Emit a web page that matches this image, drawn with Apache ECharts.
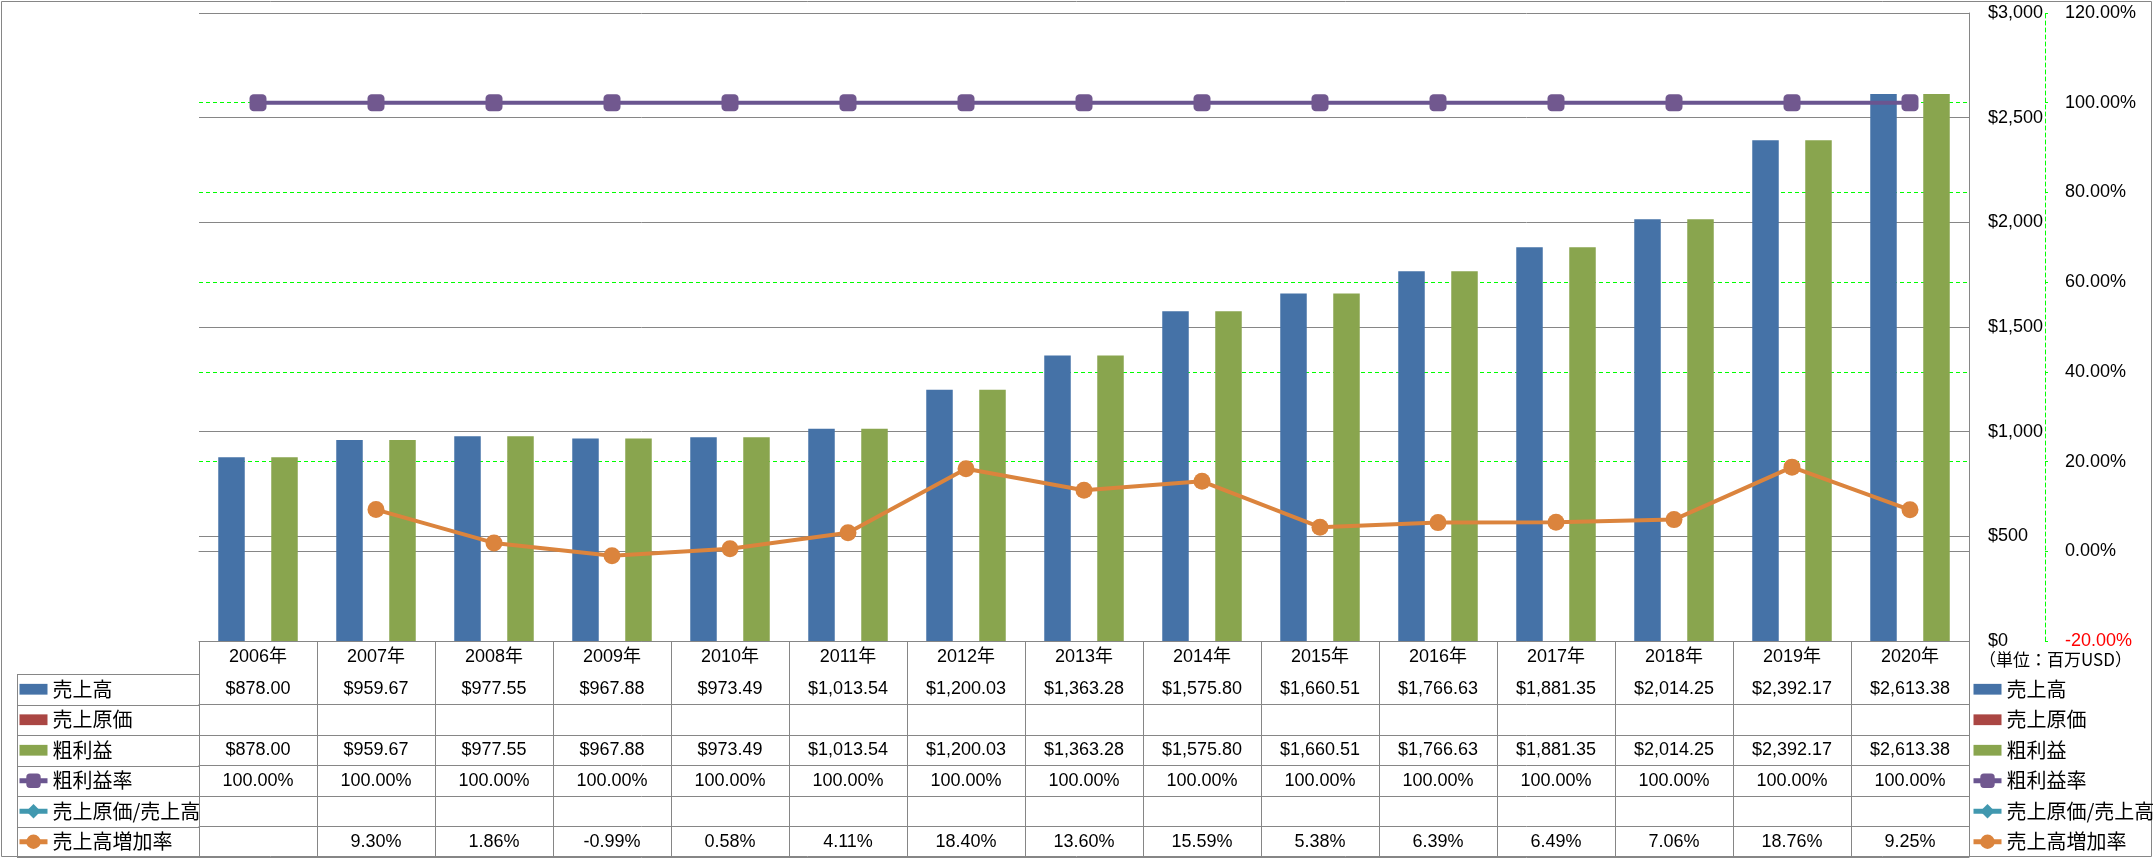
<!DOCTYPE html>
<html>
<head>
<meta charset="utf-8">
<script src="https://cdn.jsdelivr.net/npm/echarts@6/dist/echarts.min.js"></script>
<style>
html,body{margin:0;padding:0;background:#fff;}
#main{width:2156px;height:858px;}
</style>
</head>
<body>
<div id="main"></div>
<script>
// ---- data ----
const years = ['2006', '2007', '2008', '2009', '2010', '2011', '2012', '2013', '2014', '2015', '2016', '2017', '2018', '2019', '2020'];
const sales = [878.00, 959.67, 977.55, 967.88, 973.49, 1013.54, 1200.03, 1363.28, 1575.80, 1660.51, 1766.63, 1881.35, 2014.25, 2392.17, 2613.38];
const costOfSales = [null, null, null, null, null, null, null, null, null, null, null, null, null, null, null];
const grossProfit = [878.00, 959.67, 977.55, 967.88, 973.49, 1013.54, 1200.03, 1363.28, 1575.80, 1660.51, 1766.63, 1881.35, 2014.25, 2392.17, 2613.38];
const grossMargin = [100, 100, 100, 100, 100, 100, 100, 100, 100, 100, 100, 100, 100, 100, 100];
const costRatio = [null, null, null, null, null, null, null, null, null, null, null, null, null, null, null];
const salesGrowth = [null, 9.30, 1.86, -0.99, 0.58, 4.11, 18.40, 13.60, 15.59, 5.38, 6.39, 6.49, 7.06, 18.76, 9.25];
const seriesNames = ['売上高', '売上原価', '粗利益', '粗利益率', '売上原価/売上高', '売上高増加率'];
const unitLabel = '（単位：百万USD）';

// ---- styling / layout ----
const NUM_FONT = '"Liberation Sans", "Noto Sans CJK JP", sans-serif';
const CJK_FONT = '"Noto Sans CJK JP", sans-serif';
const GRAY = '#868686';
const GREEN_GRID = '#00FF00';
const COLORS = ['#4572A7', '#AA4643', '#89A54E', '#71588F', '#4198AF', '#DB843D'];
const GRID_L = 199, GRID_T = 13, GRID_W = 1770, GRID_H = 628;
const GRID_B = GRID_T + GRID_H;
const HEADER_H = 33, ROW_H = 30.5;
const NUM_FS = 18, CJK_FS = 20;

function money(v) {
  return '$' + v.toLocaleString('en-US', {minimumFractionDigits: 2, maximumFractionDigits: 2});
}
function pct(v) { return v.toFixed(2) + '%'; }

const rowArrays = [
  sales.map(v => v == null ? '' : money(v)),
  costOfSales.map(v => v == null ? '' : money(v)),
  grossProfit.map(v => v == null ? '' : money(v)),
  grossMargin.map(v => v == null ? '' : pct(v)),
  costRatio.map(v => v == null ? '' : pct(v)),
  salesGrowth.map(v => v == null ? '' : pct(v))
];

const xAxes = [{
  type: 'category', data: years, gridIndex: 0, position: 'bottom',
  axisLine: {show: true, lineStyle: {color: GRAY, width: 1}},
  axisTick: {show: true, length: HEADER_H + ROW_H * 6, lineStyle: {color: GRAY}},
  axisLabel: {interval: 0, margin: HEADER_H / 2, verticalAlign: 'middle', fontSize: NUM_FS, fontFamily: NUM_FONT, color: '#000',
    formatter: v => v + '年'},
  splitLine: {show: false}
}];
rowArrays.forEach((arr, i) => {
  xAxes.push({
    type: 'category', data: years, gridIndex: 0, position: 'bottom', offset: HEADER_H + ROW_H * i,
    axisLine: {show: true, lineStyle: {color: GRAY, width: 1}},
    axisTick: {show: false},
    axisLabel: {interval: 0, margin: ROW_H / 2, verticalAlign: 'middle', fontSize: NUM_FS, fontFamily: NUM_FONT, color: '#000',
      formatter: (v, idx) => arr[idx]},
    splitLine: {show: false}
  });
});
xAxes.push({
  type: 'category', data: years, gridIndex: 0, position: 'bottom', offset: HEADER_H + ROW_H * 6,
  axisLine: {show: true, lineStyle: {color: GRAY, width: 1}},
  axisTick: {show: false}, axisLabel: {show: false}, splitLine: {show: false}
});

// label column lines (table frame, left)
const tableTop = GRID_B + HEADER_H;
const tableBottom = tableTop + ROW_H * 6;
const frame = [];
for (let i = 0; i <= 6; i++) {
  const y = Math.round(tableTop + ROW_H * i) + 0.5;
  frame.push({type: 'line', shape: {x1: 17, y1: y, x2: GRID_L, y2: y}, style: {stroke: GRAY, lineWidth: 1}, silent: true});
}
frame.push({type: 'line', shape: {x1: 17.5, y1: tableTop, x2: 17.5, y2: tableBottom}, style: {stroke: GRAY, lineWidth: 1}, silent: true});
frame.push({type: 'rect', shape: {x: 1.5, y: 1.5, width: 2150, height: 855}, style: {fill: null, stroke: GRAY, lineWidth: 1}, silent: true});
frame.push({type: 'text', left: 1979, top: 651, style: {text: unitLabel, font: '17px ' + CJK_FONT, fill: '#000'}, silent: true});

const barIcon = 'path://M0,0h26v10h-26z';
const legendData = seriesNames.map((n, i) => (i < 3 ? {name: n, icon: barIcon} : {name: n}));
function makeLegend(left) {
  return {
    orient: 'vertical', left: left, top: tableTop, height: 220, padding: 0, itemGap: 0,
    itemWidth: 28, itemHeight: 18, selectedMode: false,
    lineStyle: {width: 5},
    textStyle: {fontSize: CJK_FS, fontFamily: CJK_FONT, color: '#000', lineHeight: ROW_H},
    data: legendData
  };
}

const option = {
  animation: false,
  backgroundColor: '#fff',
  color: COLORS,
  grid: {left: GRID_L, top: GRID_T, width: GRID_W, height: GRID_H, containLabel: false},
  legend: [makeLegend(17), makeLegend(1971)],
  xAxis: xAxes,
  yAxis: [{
    type: 'value', position: 'right', min: 0, max: 3000, interval: 500,
    axisLine: {show: true, lineStyle: {color: GRAY}},
    axisTick: {show: false},
    axisLabel: {margin: 19, fontSize: NUM_FS, fontFamily: NUM_FONT, color: '#000',
      formatter: v => '$' + v.toLocaleString('en-US')},
    splitLine: {show: true, lineStyle: {color: GRAY, width: 1}}
  }, {
    type: 'value', position: 'right', offset: 76, min: -20, max: 120, interval: 20,
    axisLine: {show: true, lineStyle: {color: GREEN_GRID, type: [4, 3]}},
    axisTick: {show: true, length: 3, lineStyle: {color: GREEN_GRID}},
    axisLabel: {margin: 20, fontSize: NUM_FS, fontFamily: NUM_FONT,
      color: v => (Number(v) < 0 ? '#FF0000' : '#000'),
      formatter: v => v.toFixed(2) + '%'},
    splitLine: {show: true, showMinLine: false, showMaxLine: false, lineStyle: {color: GREEN_GRID, type: [4, 3], width: 1}}
  }],
  series: [
    {name: seriesNames[0], type: 'bar', data: sales, yAxisIndex: 0, barWidth: 26.5, barGap: '0%', itemStyle: {color: COLORS[0]}, z: 2},
    {name: seriesNames[1], type: 'bar', data: costOfSales, yAxisIndex: 0, barWidth: 26.5, barGap: '0%', itemStyle: {color: COLORS[1]}, z: 2},
    {name: seriesNames[2], type: 'bar', data: grossProfit, yAxisIndex: 0, barWidth: 26.5, barGap: '0%', itemStyle: {color: COLORS[2]}, z: 2},
    {name: seriesNames[3], type: 'line', data: grossMargin, yAxisIndex: 1, symbol: 'roundRect', symbolSize: 17,
      lineStyle: {color: '#6A5590', width: 4}, itemStyle: {color: COLORS[3]}, z: 5},
    {name: seriesNames[4], type: 'line', data: costRatio, yAxisIndex: 1, symbol: 'diamond', symbolSize: 17,
      lineStyle: {color: COLORS[4], width: 4}, itemStyle: {color: COLORS[4]}, z: 5},
    {name: seriesNames[5], type: 'line', data: salesGrowth, yAxisIndex: 1, symbol: 'circle', symbolSize: 17,
      lineStyle: {color: COLORS[5], width: 4}, itemStyle: {color: COLORS[5]}, z: 6}
  ],
  graphic: frame
};

const chart = echarts.init(document.getElementById('main'), null, {renderer: 'canvas'});
chart.setOption(option);
</script>
</body>
</html>
